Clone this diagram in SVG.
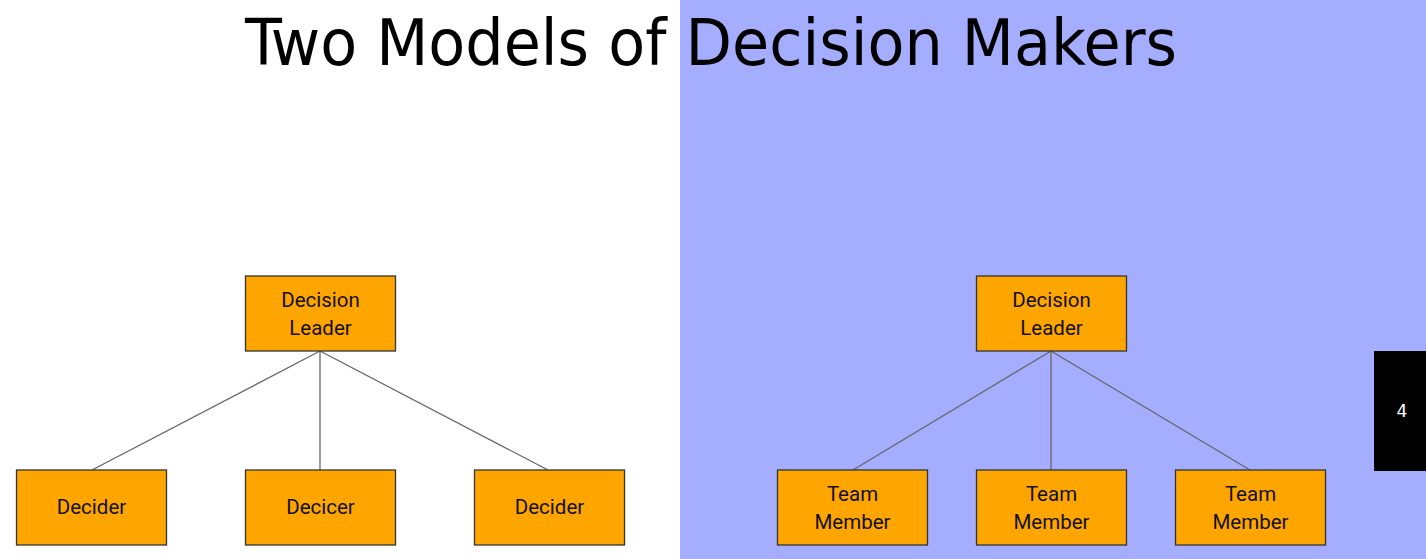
<svg xmlns="http://www.w3.org/2000/svg" width="1426" height="559" viewBox="0 0 1426 559">
<style>
.node rect{fill:#ffa500;stroke:#333333;stroke-width:1.3}
.node text{font-family:"Roboto","Open Sans","Liberation Sans",sans-serif;font-size:20.5px;fill:#111111;text-anchor:middle}
.edge{stroke:#666666;stroke-width:1.3;fill:none}
</style>
<rect x="0" y="0" width="1426" height="559" fill="#ffffff"/>
<rect x="680" y="0" width="746" height="559" fill="#a5adff"/>
<text x="711" y="65" font-family="'DejaVu Sans Condensed','DejaVu Sans',sans-serif" font-size="64" text-anchor="middle" textLength="932" lengthAdjust="spacingAndGlyphs" fill="#000">Two Models of Decision Makers</text>
<g id="connectors">
<line class="edge" x1="320" y1="351" x2="92" y2="470"/>
<line class="edge" x1="320" y1="351" x2="320" y2="470"/>
<line class="edge" x1="320" y1="351" x2="548" y2="470"/>
<line class="edge" x1="1051" y1="351" x2="853" y2="470"/>
<line class="edge" x1="1051" y1="351" x2="1051" y2="470"/>
<line class="edge" x1="1051" y1="351" x2="1250" y2="470"/>
</g>
<g id="leader-left" class="node"><rect x="245.5" y="276" width="150" height="75"/><text x="320.5" y="307">Decision</text><text x="320.5" y="335">Leader</text></g>
<g id="decider-1" class="node"><rect x="16.5" y="470" width="150" height="75"/><text x="91.5" y="514">Decider</text></g>
<g id="decider-2" class="node"><rect x="245.5" y="470" width="150" height="75"/><text x="320.5" y="514">Decicer</text></g>
<g id="decider-3" class="node"><rect x="474.5" y="470" width="150" height="75"/><text x="549.5" y="514">Decider</text></g>
<g id="leader-right" class="node"><rect x="976.5" y="276" width="150" height="75"/><text x="1051.5" y="307">Decision</text><text x="1051.5" y="335">Leader</text></g>
<g id="member-1" class="node"><rect x="777.5" y="470" width="150" height="75"/><text x="852.5" y="501">Team</text><text x="852.5" y="529">Member</text></g>
<g id="member-2" class="node"><rect x="976.5" y="470" width="150" height="75"/><text x="1051.5" y="501">Team</text><text x="1051.5" y="529">Member</text></g>
<g id="member-3" class="node"><rect x="1175.5" y="470" width="150" height="75"/><text x="1250.5" y="501">Team</text><text x="1250.5" y="529">Member</text></g>
<g id="page-number"><rect x="1374" y="351" width="52" height="120" fill="#000"/><text x="1402" y="417" font-family="'DejaVu Sans','Liberation Sans',sans-serif" font-size="17" fill="#ffffff" text-anchor="middle">4</text></g>
</svg>
